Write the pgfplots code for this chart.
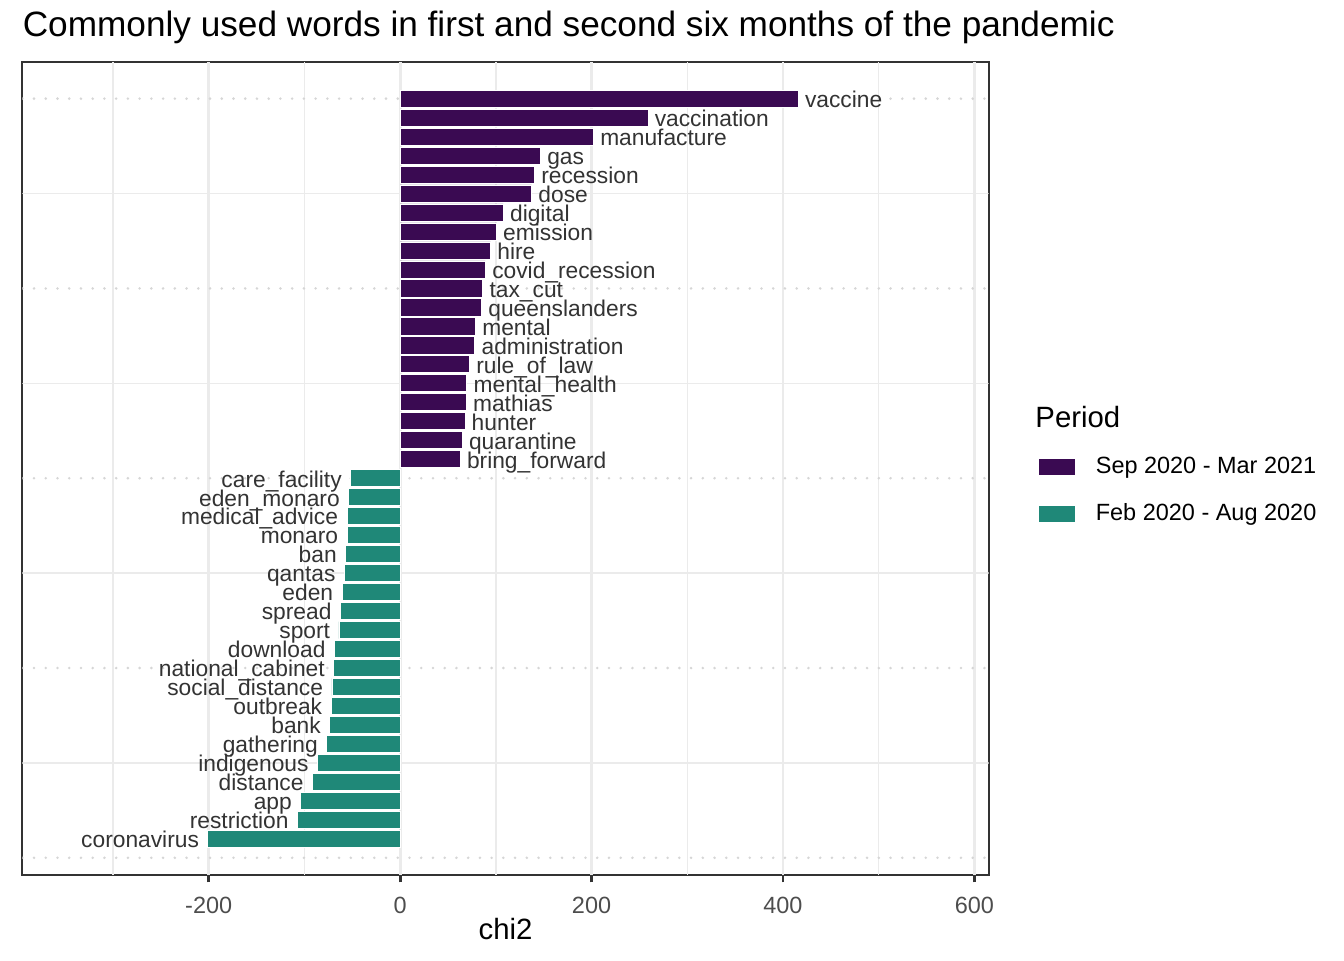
\documentclass[border=0pt]{standalone}
\usepackage{pgfplots}
\pgfplotsset{compat=1.18}
\usepackage{pgfplotstable}
\usepackage{fontspec}
\setmainfont{Liberation Sans}
\definecolor{cpurple}{HTML}{3A0A52}
\definecolor{cteal}{HTML}{1F8878}
\definecolor{gridc}{HTML}{EBEBEB}
\definecolor{dotc}{HTML}{D6D6D6}
\definecolor{grey20}{HTML}{333333}
\definecolor{grey30}{HTML}{4D4D4D}
\definecolor{labc}{HTML}{333333}

\pgfplotstableread{
y x word
40 416.0 vaccine
39 259.0 vaccination
38 202.0 manufacture
37 146.7 gas
36 140.4 recession
35 137.4 dose
34 107.8 digital
33 100.6 emission
32 94.5 hire
31 89.2 covid\_recession
30 86.4 tax\_cut
29 85.1 queenslanders
28 78.8 mental
27 78.1 administration
26 72.5 rule\_of\_law
25 69.7 mental\_health
24 69.1 mathias
23 67.7 hunter
22 64.9 quarantine
21 62.8 bring\_forward
}\posdata

\pgfplotstableread{
y x word
20 -51.7 care\_facility
19 -53.8 eden\_monaro
18 -55.5 medical\_advice
17 -55.5 monaro
16 -56.9 ban
15 -58.3 qantas
14 -60.7 eden
13 -62.4 spread
12 -63.9 sport
11 -68.7 download
10 -69.4 national\_cabinet
9 -71.2 social\_distance
8 -72.2 outbreak
7 -73.6 bank
6 -76.7 gathering
5 -86.4 indigenous
4 -91.6 distance
3 -103.9 app
2 -107.3 restriction
1 -200.9 coronavirus
}\negdata

\begin{document}
\begin{tikzpicture}
\useasboundingbox (0,0) rectangle (504pt,360pt);
\begin{axis}[
  at={(8.36pt,31.875pt)}, anchor=south west,
  scale only axis, width=362.4pt, height=304.8pt,
  xmin=-394.8, xmax=615, ymin=-0.906, ymax=41.92,
  xbar, bar width=0.9, bar shift=0pt,
  axis line style={draw=grey20, line width=0.8pt},
  xtick={-200,0,200,400,600},
  xticklabels={-200,0,200,400,600},
  ytick=\empty,
  xtick pos=bottom,
  tick align=outside,
  major tick length=2.75pt,
  xtick style={draw=grey20, line width=1.07pt},
  xticklabel style={font=\fontsize{8.8}{10}\selectfont, text=grey30, anchor=base, inner sep=0pt, yshift=-11.5pt},
  xlabel={chi2},
  xlabel style={at={(axis description cs:0.5,0)}, anchor=base, yshift=-24.1pt, font=\fontsize{11}{13}\selectfont, text=black, inner sep=0pt},
  legend style={
    at={(axis description cs:1.051,0.5144)}, anchor=north west,
    draw=none, fill=none, inner sep=0pt, outer sep=0pt,
    row sep=9.75pt,
    font=\fontsize{8.8}{10}\selectfont,
    nodes={inner sep=0pt},
    /tikz/every odd column/.append style={column sep=7.5pt},
  },
  legend cell align=left,
  legend image code/.code={\fill[#1] (0pt,-3.2pt) rectangle (13.9pt,3.2pt);},
  point meta=explicit symbolic,
  nodes near coords,
]
\pgfplotsinvokeforeach{-300,-100,100,300,500}{
  \draw[gridc, line width=0.53pt] (axis cs:#1,-0.906) -- (axis cs:#1,41.92);
}
\pgfplotsinvokeforeach{-200,0,200,400,600}{
  \draw[gridc, line width=1.07pt] (axis cs:#1,-0.906) -- (axis cs:#1,41.92);
}
\pgfplotsinvokeforeach{5,15,25,35}{
  \draw[gridc, line width=0.53pt] (axis cs:-394.8,#1) -- (axis cs:615,#1);
}
\pgfplotsinvokeforeach{0,10,20,30,40}{
  \draw[dotc, line width=1.07pt, line cap=round, dash pattern=on 0pt off 4.4pt] (axis cs:-394.8,#1) -- (axis cs:615,#1);
}
\addplot[fill=cpurple, draw=white, line width=0.3pt,
  every node near coord/.append style={anchor=base west, xshift=2.4pt, yshift=-3.3pt, inner sep=0pt, text=labc, font=\fontsize{8.54}{10}\selectfont}]
  table[x=x, y=y, meta=word] {\posdata};
\addlegendentry{Sep 2020 - Mar 2021}
\addplot[fill=cteal, draw=white, line width=0.3pt,
  every node near coord/.append style={anchor=base east, xshift=-3.2pt, yshift=-3.3pt, inner sep=0pt, text=labc, font=\fontsize{8.54}{10}\selectfont}]
  table[x=x, y=y, meta=word] {\negdata};
\addlegendentry{Feb 2020 - Aug 2020}
\end{axis}
\node[anchor=base west, inner sep=0pt, font=\fontsize{13.2}{15}\selectfont] at (8.36pt,346.5pt) {Commonly used words in first and second six months of the pandemic};
\node[anchor=base west, inner sep=0pt, font=\fontsize{11}{13}\selectfont] at (388.1pt,199.75pt) {Period};
\end{tikzpicture}
\end{document}
